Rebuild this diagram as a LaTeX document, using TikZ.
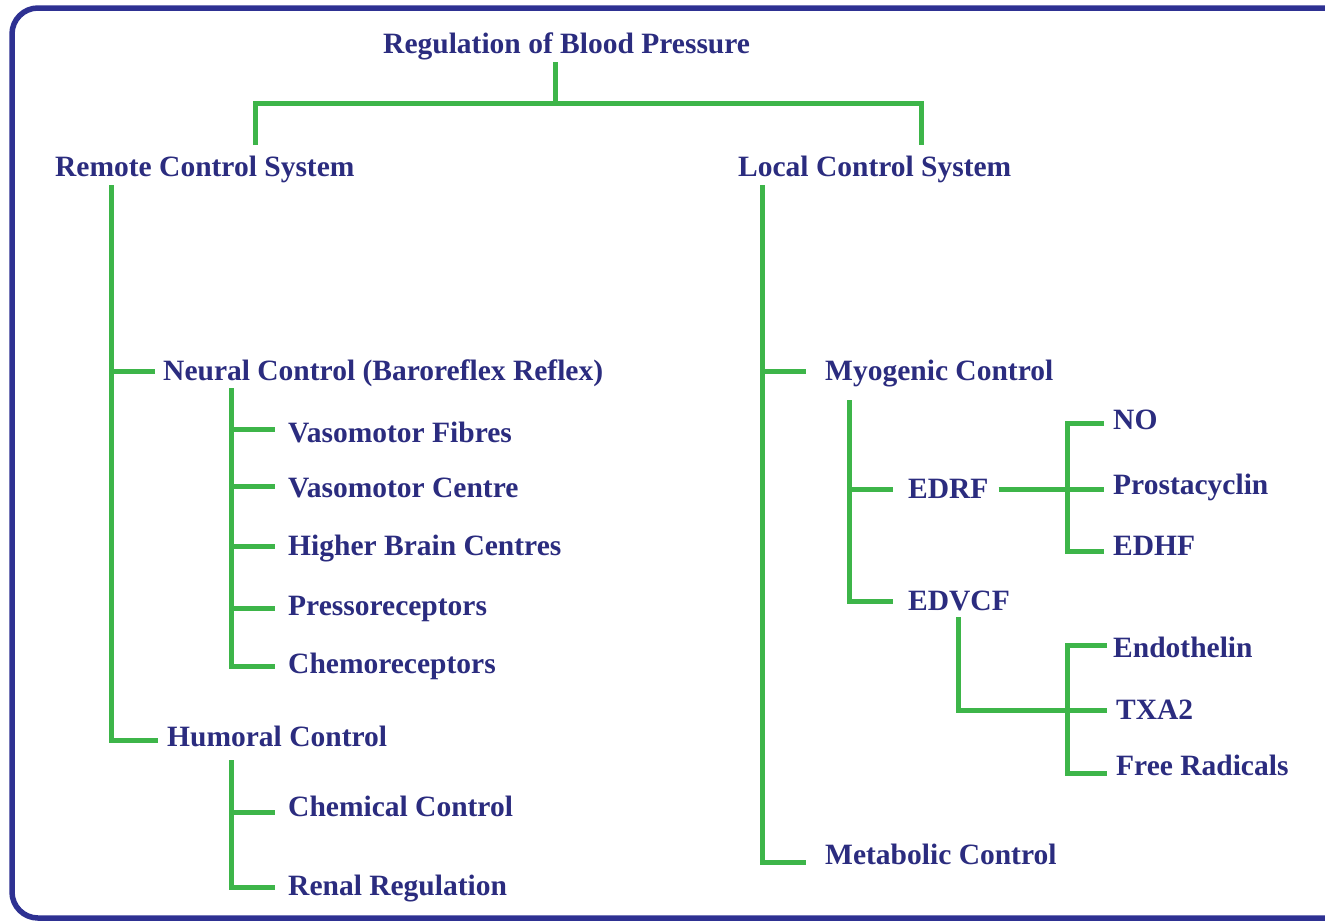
\documentclass[tikz,border=0pt]{standalone}
\usepackage{fontspec}
\setmainfont{Liberation Serif}
\definecolor{txt}{HTML}{2B2C7F}
\definecolor{grn}{HTML}{3DB549}
\definecolor{frm}{HTML}{2E3192}
\begin{document}
\begin{tikzpicture}[x=1pt,y=-1pt,
  lbl/.style={anchor=west, inner sep=0pt, text height=18pt, text depth=0pt,
    font=\fontsize{29.5}{33}\selectfont\bfseries, text=txt},
  conn/.style={draw=grn, line width=5pt, line join=miter}]
\useasboundingbox (0,0) rectangle (1325,922);
\fill[white] (0,0) rectangle (1325,922);
\draw[frm, line width=5.5pt, rounded corners=26pt] (12,8) rectangle (1370,918);

% labels
\node[lbl] (title) at (383,44) {Regulation of Blood Pressure};
\node[lbl] (remote) at (55,167) {Remote Control System};
\node[lbl] (local) at (738,167) {Local Control System};
\node[lbl] (neural) at (163,371) {Neural Control (Baroreflex Reflex)};
\node[lbl] (vf) at (288,433) {Vasomotor Fibres};
\node[lbl] (vc) at (288,488) {Vasomotor Centre};
\node[lbl] (hbc) at (288,546) {Higher Brain Centres};
\node[lbl] (pr) at (288,606) {Pressoreceptors};
\node[lbl] (cr) at (288,664) {Chemoreceptors};
\node[lbl] (hum) at (167,737) {Humoral Control};
\node[lbl] (chem) at (288,807) {Chemical Control};
\node[lbl] (renal) at (288,886) {Renal Regulation};
\node[lbl] (myo) at (825,371) {Myogenic Control};
\node[lbl] (meta) at (825,855) {Metabolic Control};
\node[lbl] (edrf) at (908,489) {EDRF};
\node[lbl] (edvcf) at (908,601) {EDVCF};
\node[lbl] (no) at (1113,420) {NO};
\node[lbl] (pros) at (1113,485) {Prostacyclin};
\node[lbl] (edhf) at (1113,546) {EDHF};
\node[lbl] (endo) at (1113,648) {Endothelin};
\node[lbl] (txa) at (1116,710) {TXA2};
\node[lbl] (free) at (1116,766) {Free Radicals};

% junction coordinates
\coordinate (top) at (555,62);
\coordinate (tj) at (555,103);
\coordinate (lA) at (255,145);
\coordinate (rA) at (921,145);
\coordinate (tL) at (111,185);
\coordinate (tN) at (231,388);
\coordinate (tH) at (231,760);
\coordinate (tR) at (762,185);
\coordinate (tM) at (849,400);
\coordinate (jE) at (1067,423);
\coordinate (tV) at (958,617);

% top split
\draw[conn] (top) -- (tj);
\draw[conn] (lA) |- (tj) -| (rA);

% remote control system
\draw[conn] (tL) |- ([xshift=-9pt,yshift=-3pt]hum.west);
\draw[conn] (neural.west -| tL) -- ([xshift=-8pt]neural.west);
\draw[conn] (tN) |- ([xshift=-13pt,yshift=-2pt]cr.west);
\foreach \n/\d in {vf/4, vc/2, hbc/0, pr/-2}
  \draw[conn] ([yshift=\d pt]\n.west -| tN) -- ([xshift=-13pt,yshift=\d pt]\n.west);
\draw[conn] (tH) |- ([xshift=-13pt,yshift=-1pt]renal.west);
\draw[conn] ([yshift=-5pt]chem.west -| tH) -- ([xshift=-13pt,yshift=-5pt]chem.west);

% local control system
\draw[conn] (tR) |- ([xshift=-19pt,yshift=-7pt]meta.west);
\draw[conn] (myo.west -| tR) -- ([xshift=-19pt]myo.west);
\draw[conn] (tM) |- ([xshift=-15pt]edvcf.west);
\draw[conn] (edrf.west -| tM) -- ([xshift=-15pt]edrf.west);

% EDRF branch
\draw[conn] ([xshift=-9pt,yshift=-3pt]no.west) -| (jE) |- ([xshift=-9pt,yshift=-5pt]edhf.west);
\draw[conn] ([xshift=10pt]edrf.east) -- ([xshift=-9pt]edrf.east -| pros.west);

% EDVCF branch
\draw[conn] (tV) |- ([xshift=-9pt]txa.west);
\draw[conn] ([xshift=-6pt,yshift=3pt]endo.west) -| (jE |- endo.west) |- ([xshift=-9pt,yshift=-7pt]free.west);
\end{tikzpicture}
\end{document}
